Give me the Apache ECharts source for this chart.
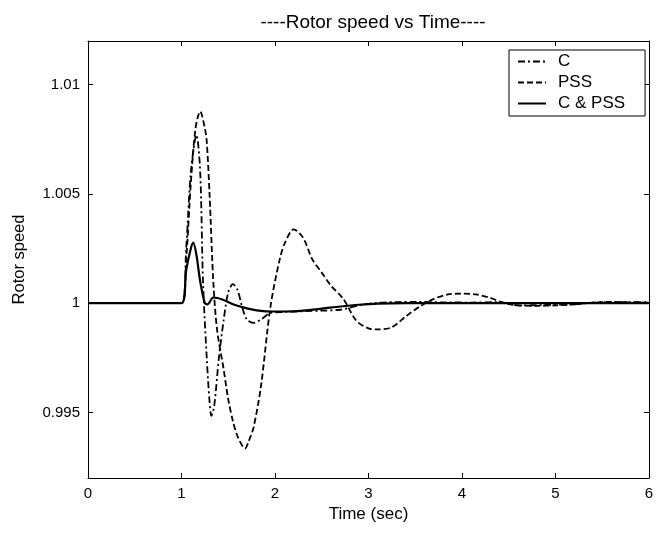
<!DOCTYPE html>
<html><head><meta charset="utf-8">
<script src="https://cdn.jsdelivr.net/npm/echarts@6/dist/echarts.min.js"></script>
<style>html,body{margin:0;padding:0;background:#fff}#c{width:664px;height:534px}</style>
</head><body><div id="c"></div>
<script>
// Time (sec) and rotor speed samples
const tC = [0, 1.0, 1.05, 1.1, 1.16, 1.2, 1.23, 1.27, 1.3, 1.32, 1.35, 1.4, 1.45, 1.5, 1.55, 1.6, 1.65, 1.7, 1.77, 1.85, 1.95, 2.1, 2.3, 2.5, 2.7, 2.9, 3.1, 3.3, 3.5, 3.8, 4.1, 4.4, 4.6, 4.9, 5.2, 5.5, 5.8, 6.0];
const vC = [1, 1, 1.0025, 1.0060, 1.0077, 1.0060, 1.0010, 0.9975, 0.9955, 0.99485, 0.9953, 0.9975, 0.9992, 1.0005, 1.00087, 1.0006, 0.9998, 0.99925, 0.9991, 0.99925, 0.99955, 0.9996, 0.99963, 0.99966, 0.9997, 0.9999, 1.00002, 1.00005, 1.00006, 1.00004, 1.00003, 1.00005, 0.9999, 0.99992, 0.99995, 1.00005, 1.00005, 1.00004];

const tPSS = [0, 1.0, 1.05, 1.1, 1.15, 1.2, 1.25, 1.27, 1.3, 1.34, 1.38, 1.45, 1.5, 1.55, 1.6, 1.68, 1.72, 1.77, 1.85, 1.95, 2.05, 2.11, 2.2, 2.3, 2.4, 2.5, 2.6, 2.73, 2.87, 3.0, 3.1, 3.25, 3.4, 3.55, 3.7, 3.85, 4.0, 4.15, 4.3, 4.45, 4.6, 4.8, 5.0, 5.2, 5.4, 5.6, 5.8, 6.0];
const vPSS = [1, 1, 1.0020, 1.0055, 1.0080, 1.00878, 1.0080, 1.0074, 1.0050, 1.0010, 0.9988, 0.9970, 0.9956, 0.9946, 0.9939, 0.99335, 0.9937, 0.9943, 0.9962, 0.9998, 1.0020, 1.0028, 1.00338, 1.0030, 1.0020, 1.0014, 1.0008, 1.0002, 0.9992, 0.99885, 0.9988, 0.9989, 0.9994, 0.99985, 1.0002, 1.0004, 1.00044, 1.0004, 1.00025, 1.0000, 0.9999, 0.99988, 0.9999, 0.99995, 1.00003, 1.00006, 1.00004, 1.00003];

const tCP = [0, 1.0, 1.05, 1.1, 1.126, 1.16, 1.2, 1.25, 1.28, 1.34, 1.45, 1.55, 1.65, 1.75, 1.85, 1.95, 2.1, 2.3, 2.5, 2.7, 2.9, 3.1, 3.4, 6.0];
const vCP = [1, 1, 1.0015, 1.0025, 1.00277, 1.0022, 1.0010, 1.0000, 0.99995, 1.00026, 1.00015, 0.99995, 0.99982, 0.99972, 0.99965, 0.99962, 0.99962, 0.99966, 0.99975, 0.99985, 0.99993, 0.99998, 1.0, 1.0];

const xTicks = [0, 1, 2, 3, 4, 5, 6];
const yTicks = [0.995, 1, 1.005, 1.01];
const seriesNames = ['C', 'PSS', 'C & PSS'];

const zip = (t, v) => t.map((x, i) => [x, v[i]]);
const font = 'Liberation Sans, Arial, sans-serif';

const chart = echarts.init(document.getElementById('c'), null, {renderer: 'canvas'});
const axisLine = {show: true, onZero: false, lineStyle: {color: '#000', width: 1}};
const xBase = {type: 'value', min: 0, max: 6, interval: 1, axisLine, splitLine: {show: false},
  axisTick: {show: true, inside: true, length: 5, lineStyle: {color: '#000'}}};
const yBase = {type: 'value', min: 0.992, max: 1.012, axisLine, splitLine: {show: false},
  axisTick: {show: true, inside: true, length: 5, customValues: yTicks, lineStyle: {color: '#000'}}};

chart.setOption({
  backgroundColor: '#fff',
  animation: false,
  title: {text: '----Rotor speed vs Time----', left: 368, textAlign: 'center', top: 8,
    textStyle: {fontFamily: font, fontSize: 19, fontWeight: 'normal', color: '#000'}},
  grid: {left: 88, right: 15, top: 41, bottom: 56},
  legend: {
    data: seriesNames, orient: 'vertical', left: 509, top: 50,
    itemWidth: 28, itemHeight: 14, itemGap: 4,
    padding: [3, 20, 4, 8],
    backgroundColor: '#fff', borderColor: '#000', borderWidth: 1, borderRadius: 0,
    itemStyle: {opacity: 0, color: 'transparent', borderWidth: 0},
    textStyle: {fontFamily: font, fontSize: 17, lineHeight: 14, color: '#000', padding: [0, 0, 0, 7]}
  },
  xAxis: [
    Object.assign({}, xBase, {position: 'bottom',
      axisLabel: {show: true, margin: 8, color: '#000', fontFamily: font, fontSize: 15,
        customValues: xTicks},
      name: 'Time (sec)', nameLocation: 'middle', nameGap: 28,
      nameTextStyle: {fontFamily: font, fontSize: 17, color: '#000'}}),
    Object.assign({}, xBase, {position: 'top', axisLabel: {show: false}})
  ],
  yAxis: [
    Object.assign({}, yBase, {position: 'left',
      axisLabel: {show: true, margin: 8, color: '#000', fontFamily: font, fontSize: 15,
        customValues: yTicks, formatter: v => String(+v.toFixed(4))},
      name: 'Rotor speed', nameLocation: 'middle', nameGap: 60,
      nameTextStyle: {fontFamily: font, fontSize: 16.5, color: '#000'}}),
    Object.assign({}, yBase, {position: 'right', axisLabel: {show: false}})
  ],
  series: [
    {name: 'C', type: 'line', data: zip(tC, vC), symbol: 'none', smooth: 0.3,
      itemStyle: {color: '#000'}, lineStyle: {color: '#000', width: 1.8, type: [7, 3, 2, 3]}},
    {name: 'PSS', type: 'line', data: zip(tPSS, vPSS), symbol: 'none', smooth: 0.3,
      itemStyle: {color: '#000'}, lineStyle: {color: '#000', width: 1.8, type: [6, 3]}},
    {name: 'C & PSS', type: 'line', data: zip(tCP, vCP), symbol: 'none', smooth: 0.3,
      itemStyle: {color: '#000'}, lineStyle: {color: '#000', width: 2.2, type: 'solid'}}
  ]
});
</script></body></html>
